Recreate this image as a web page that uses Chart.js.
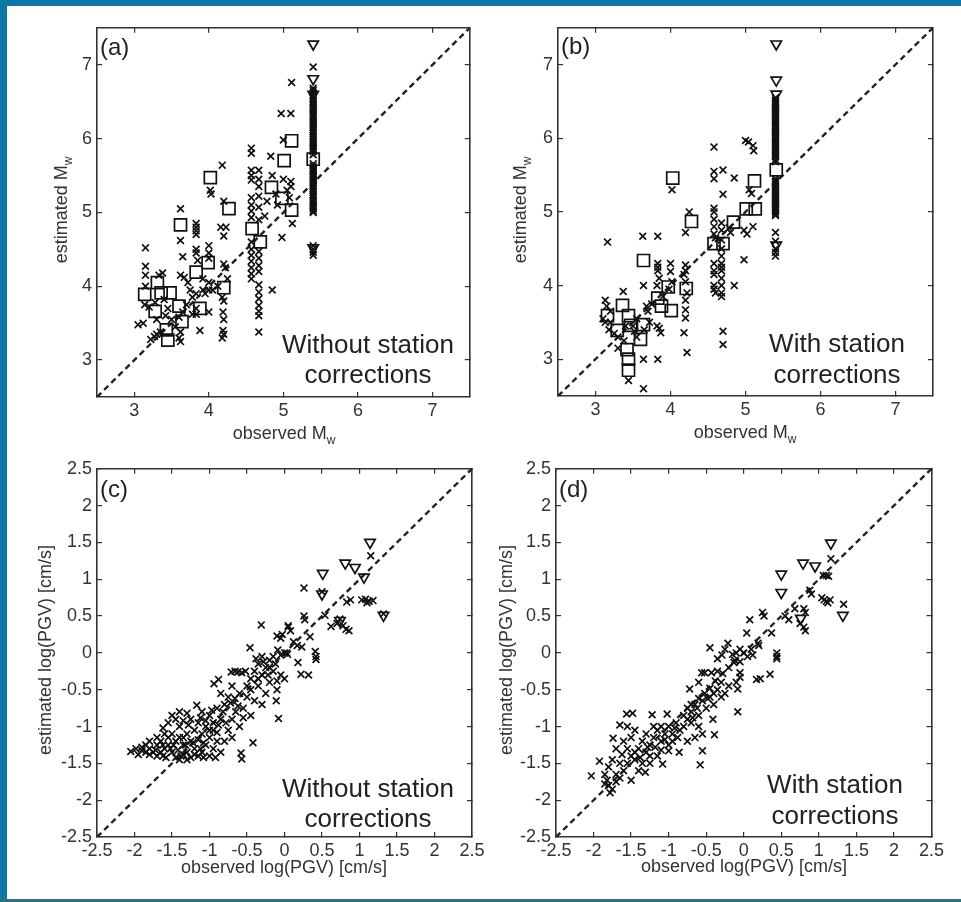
<!DOCTYPE html>
<html>
<head>
<meta charset="utf-8">
<title>Estimated vs observed Mw and log(PGV)</title>
<script src="https://cdn.jsdelivr.net/npm/chart.js@4.4.1/dist/chart.umd.min.js"></script>
<style>
  html, body { margin: 0; padding: 0; background: #fff; }
  #page { position: relative; width: 961px; height: 902px; overflow: hidden; background: #fff; }
  .band { position: absolute; background: #0d77a7; }
  canvas { position: absolute; }
</style>
</head>
<body>
<div id="page">
  <div class="band" style="left:0;top:0;width:961px;height:6px"></div>
  <div class="band" style="left:0;top:0;width:7px;height:902px"></div>
  <div class="band" style="left:0;top:899px;width:961px;height:3px;background:#2c6e86"></div>
  <canvas id="panel-a"></canvas>
  <canvas id="panel-b"></canvas>
  <canvas id="panel-c"></canvas>
  <canvas id="panel-d"></canvas>
</div>
<script>
// axis ranges and tick labels
const MW_RANGE = [2.5, 7.5];
const MW_TICKS = [3, 4, 5, 6, 7];
const PGV_RANGE = [-2.5, 2.5];
const PGV_TICKS = [-2.5, -2, -1.5, -1, -0.5, 0, 0.5, 1, 1.5, 2, 2.5];

// (a) Mw, without station corrections
const aCrosses = [
  [5.4,6.97],[5.4,6.68],[5.4,6.65],[5.4,6.62],[5.4,6.58],[5.4,6.55],[5.4,6.52],[5.4,6.5],[5.4,6.47],[5.4,6.45],
  [5.4,6.42],[5.4,6.4],[5.4,6.37],[5.4,6.35],[5.4,6.32],[5.4,6.3],[5.4,6.27],[5.4,6.24],[5.4,6.21],[5.4,6.18],
  [5.4,6.15],[5.4,6.12],[5.4,6.09],[5.4,6.07],[5.4,6.04],[5.4,6.02],[5.4,5.99],[5.4,5.96],[5.4,5.93],[5.4,5.9],
  [5.4,5.87],[5.4,5.85],[5.4,5.82],[5.4,5.78],[5.4,5.66],[5.4,5.63],[5.4,5.6],[5.4,5.57],[5.4,5.55],[5.4,5.52],
  [5.4,5.5],[5.4,5.47],[5.4,5.44],[5.4,5.41],[5.4,5.38],[5.4,5.35],[5.4,5.32],[5.4,5.29],[5.4,5.27],[5.4,5.24],
  [5.4,5.22],[5.4,5.19],[5.4,5.16],[5.4,5.13],[5.4,5.1],[5.4,5.07],[5.4,5.05],[5.4,5.02],[5.4,5.0],
  [5.4,4.55],[5.4,4.5],[5.4,4.46],[5.4,4.42],
  [4.57,5.87],[4.57,5.8],[4.57,5.57],[4.57,5.5],[4.57,5.44],[4.57,5.2],[4.57,5.1],[4.57,5.02],[4.57,4.93],
  [4.57,4.6],[4.57,4.5],[4.57,4.42],[4.57,4.34],[4.57,4.25],[4.57,4.17],[4.57,4.1],
  [4.67,5.57],[4.67,5.45],[4.67,5.35],[4.67,5.22],[4.67,5.07],[4.67,4.9],[4.67,4.47],[4.67,4.38],[4.67,4.28],
  [4.67,4.2],[4.67,4.02],[4.67,3.92],[4.67,3.83],[4.67,3.74],[4.67,3.66],[4.67,3.6],[4.67,3.38],
  [5.11,6.76],[4.97,6.34],[5.1,6.34],[5.0,5.98],[4.83,5.76],[4.85,5.5],[5.0,5.45],[5.1,5.42],[5.1,5.35],
  [4.9,5.25],[5.08,5.2],[5.12,4.85],[4.98,4.66],[4.92,5.1],[4.75,4.95],[4.85,3.95],[5.05,5.3],[4.78,5.15],
  [4.18,5.64],[4.2,5.15],[4.16,4.8],[4.23,4.8],[4.2,4.68],[4.2,4.3],[4.22,4.25],[4.18,3.85],[4.2,3.8],
  [4.19,3.65],[4.2,3.55],[4.19,3.4],[4.2,3.35],[4.18,3.3],[4.25,4.1],[4.12,4.0],
  [4.02,5.3],[4.03,5.25],[4.0,4.55],[4.0,4.45],[4.0,4.38],[4.0,3.95],[3.95,3.9],[4.05,3.95],[4.0,3.65],
  [4.0,4.05],[3.92,4.1],[3.92,3.95],
  [3.83,4.85],[3.83,4.8],[3.83,4.75],[3.83,4.7],[3.83,4.5],[3.83,4.45],[3.85,4.35],[3.83,3.9],[3.83,3.7],
  [3.83,3.62],[3.88,3.4],[3.78,3.62],
  [3.62,5.05],[3.62,4.62],[3.65,4.4],[3.62,4.15],[3.67,4.12],[3.72,4.05],[3.75,3.95],[3.78,3.85],[3.7,3.75],
  [3.65,3.65],[3.6,3.58],[3.62,3.38],[3.6,3.3],[3.62,3.25],[3.5,3.55],[3.55,3.45],
  [3.15,4.52],[3.15,4.27],[3.15,4.15],[3.15,4.0],[3.14,3.75],[3.2,3.72],[3.05,3.48],[3.12,3.5],[3.22,3.28],
  [3.27,3.32],[3.3,3.35],[3.35,3.38],[3.38,4.18],[3.33,4.15],[3.42,3.6],[3.3,3.55],[3.45,3.7],[3.28,3.78],[3.4,3.82]
];
const aSquares = [
  [5.4,5.72],[5.11,5.97],[5.01,5.7],[4.84,5.34],[4.98,5.19],[5.11,5.03],[4.58,4.78],[4.69,4.6],[4.27,5.05],
  [4.02,5.47],[3.62,4.83],[3.83,4.19],[3.99,4.32],[3.88,3.7],[4.2,3.98],[3.14,3.89],[3.31,4.05],[3.36,3.91],
  [3.48,3.91],[3.28,3.66],[3.6,3.73],[3.64,3.52],[3.43,3.41],[3.45,3.27]
];
const aTriangles = [[5.4,7.28],[5.4,6.81],[5.4,6.6],[5.4,4.52]];

// (b) Mw, with station corrections
const bCrosses = [
  [5.4,6.55],[5.4,6.52],[5.4,6.5],[5.4,6.47],[5.4,6.45],[5.4,6.42],[5.4,6.4],[5.4,6.37],[5.4,6.35],[5.4,6.32],
  [5.4,6.3],[5.4,6.27],[5.4,6.25],[5.4,6.22],[5.4,6.2],[5.4,6.17],[5.4,6.15],[5.4,6.12],[5.4,6.1],[5.4,6.07],
  [5.4,6.05],[5.4,6.02],[5.4,6.0],[5.4,5.97],[5.4,5.95],[5.4,5.92],[5.4,5.9],[5.4,5.87],[5.4,5.85],[5.4,5.82],
  [5.4,5.8],[5.4,5.77],[5.4,5.75],[5.4,5.71],[5.4,5.68],[5.4,5.45],[5.4,5.42],[5.4,5.4],[5.4,5.37],[5.4,5.35],
  [5.4,5.32],[5.4,5.3],[5.4,5.27],[5.4,5.25],[5.4,5.22],[5.4,5.2],[5.4,5.17],[5.4,5.15],[5.4,5.12],[5.4,5.1],
  [5.4,5.07],[5.4,5.05],[5.4,5.02],[5.4,5.0],[5.4,4.97],[5.4,4.95],[5.4,4.72],
  [5.4,4.6],[5.4,4.5],[5.4,4.45],[5.4,4.4],
  [4.58,5.88],[5.0,5.97],[5.04,5.95],[5.1,5.9],[5.11,5.83],[4.58,5.55],[4.7,5.57],[4.58,5.45],[4.85,5.46],
  [5.05,5.3],[5.08,5.25],[4.7,5.24],[4.98,4.75],[5.02,4.7],[5.1,4.8],[4.98,4.35],[4.85,4.0],
  [4.58,5.05],[4.58,5.0],[4.58,4.9],[4.58,4.8],[4.58,4.7],[4.6,4.65],[4.58,4.3],[4.58,4.2],[4.58,4.15],
  [4.58,4.0],[4.58,3.95],[4.6,3.9],
  [4.68,4.85],[4.68,4.75],[4.68,4.62],[4.68,4.5],[4.68,4.4],[4.68,4.3],[4.68,4.25],[4.68,4.2],[4.68,4.1],
  [4.68,4.0],[4.68,3.9],[4.68,3.85],[4.7,3.38],[4.7,3.2],[4.78,4.78],[4.8,4.72],
  [4.02,5.3],[4.25,5.0],[4.2,4.72],[3.16,4.59],[3.63,4.67],[3.83,4.67],[3.83,4.3],[3.83,4.25],[3.83,4.2],
  [3.85,4.1],[3.82,4.0],[3.9,3.85],[3.82,3.45],[3.87,3.36],[3.85,3.42],[3.83,3.0],[4.0,4.3],[4.0,4.19],
  [4.02,4.05],[3.98,3.95],[4.2,4.28],[4.2,4.2],[4.18,4.15],[4.2,4.05],[4.22,3.9],[4.2,3.8],[4.2,3.67],
  [4.2,3.56],[4.18,3.36],[4.22,3.09],[3.64,4.0],[3.64,3.0],[3.64,2.6],[3.44,2.71],[3.68,3.72],[3.75,3.75],
  [3.7,3.65],[3.13,3.8],[3.15,3.72],[3.1,3.55],[3.13,3.5],[3.2,3.5],[3.25,3.35],[3.3,3.3],[3.37,3.92],
  [3.5,3.45],[3.55,3.55],[3.3,3.15],[3.52,3.38],[3.55,3.3],[3.4,3.45],[3.38,3.25],[3.72,3.5],[3.65,3.4],
  [3.18,3.4],[3.2,3.65]
];
const bSquares = [
  [5.41,5.57],[5.12,5.42],[5.01,5.04],[5.13,5.04],[4.84,4.86],[4.58,4.57],[4.7,4.57],[4.03,5.46],[4.28,4.87],
  [3.64,4.34],[3.97,3.98],[3.83,3.83],[3.88,3.72],[4.01,3.66],[4.21,3.96],[3.16,3.59],[3.36,3.73],[3.44,3.59],
  [3.29,3.39],[3.42,3.13],[3.44,3.0],[3.44,2.85],[3.6,3.27],[3.64,3.47],[3.47,3.46]
];
const bTriangles = [[5.41,7.28],[5.41,6.79],[5.41,6.6],[5.41,4.55]];

// (c) log(PGV), without station corrections
const cCrosses = [
  [1.15,1.32],[0.26,0.88],[1.03,0.72],[1.08,0.73],[1.13,0.7],[1.18,0.71],[1.1,0.68],[0.83,0.69],[0.88,0.72],
  [0.54,0.51],[0.62,0.36],[0.7,0.4],[0.78,0.37],[0.82,0.32],[0.86,0.3],[0.26,0.5],[0.27,0.45],[0.34,0.22],
  [0.41,0.02],[0.42,-0.05],[0.42,-0.09],[0.23,0.08],[0.18,-0.13],[0.22,-0.29],[0.32,-0.3],[0.12,0.15],
  [0.05,0.35],[0.08,0.3],[0.05,0.37],[-0.05,0.2],[-0.03,0.25],[0.17,0.1],[0.0,0.0],[-0.05,-0.03],[0.04,-0.02],
  [-0.09,0.04],[0.03,0.0],[-0.1,0.23],[-0.31,0.38],[-0.46,0.07],[0.5,0.83],[1.32,0.53],[0.74,0.46],
  [-0.1,-0.5],[-0.11,-0.65],[-0.08,-0.89],[-0.42,-1.22],[-0.58,-1.36],[-0.57,-1.44],[-0.62,-0.26],
  [-0.57,-0.27],[-0.66,-0.25],[-0.71,-0.26],[-0.52,-0.25],[-0.94,-0.42],[-0.88,-0.36],
  [-0.3,-0.05],[-0.2,-0.1],[-0.25,-0.2],[-0.15,-0.25],[-0.05,-0.3],[0.0,-0.35],[-0.1,-0.38],[-0.35,-0.15],
  [-0.4,-0.25],[-0.3,-0.3],[-0.2,-0.4],[-0.35,-0.45],[-0.25,-0.55],[-0.45,-0.5],[-0.5,-0.6],[-0.4,-0.65],
  [-0.3,-0.7],[-0.55,-0.75],[-0.65,-0.8],[-0.45,-0.85],[-0.6,-0.55],[-0.7,-0.45],[-0.75,-0.6],[-0.8,-0.7],
  [-0.7,-0.9],[-0.6,-1.0],[-0.75,-1.05],[-0.8,-1.2],[-0.7,-1.15],[-0.85,-0.9],[-0.9,-0.75],[-0.95,-0.95],
  [-0.85,-0.55],[-0.2,-0.2],[-0.15,-0.05],[-0.38,-0.08],
  [-1.17,-0.71],[-1.1,-0.8],[-1.0,-0.85],[-0.95,-1.05],[-1.05,-1.0],[-1.0,-1.15],[-0.95,-1.3],[-1.05,-1.25],
  [-1.1,-1.1],[-1.15,-0.95],[-1.2,-1.05],[-1.25,-1.2],[-1.2,-1.3],[-1.3,-1.35],[-1.15,-1.4],[-1.35,-1.25],
  [-1.3,-1.1],[-1.4,-1.0],[-1.45,-0.9],[-1.4,-0.8],[-1.3,-0.82],[-1.25,-0.9],[-1.5,-0.85],[-1.55,-0.95],
  [-1.5,-1.1],[-1.45,-1.2],[-1.55,-1.25],[-1.5,-1.35],[-1.45,-1.42],[-1.4,-1.45],[-1.6,-1.3],[-1.65,-1.2],
  [-1.6,-1.1],[-1.7,-1.25],[-1.75,-1.35],[-1.8,-1.3],[-1.85,-1.25],[-1.9,-1.33],[-2.05,-1.34],[-1.95,-1.38],
  [-1.7,-1.4],[-1.62,-1.4],[-1.35,-1.38],[-1.25,-1.42],[-1.1,-1.35],[-0.85,-1.35],[-0.9,-1.2],[-1.7,-1.15],
  [-1.8,-1.2],[-1.35,-1.15],
  [-1.9,-1.28],[-1.8,-1.38],[-1.72,-1.32],[-1.65,-1.35],[-1.58,-1.42],[-1.52,-1.3],[-1.42,-1.32],[-1.38,-1.4],
  [-1.3,-1.45],[-1.2,-1.38],[-1.12,-1.3],[-1.08,-1.42],[-1.0,-1.4],[-0.92,-1.42],[-1.62,-1.25],[-1.55,-1.15],
  [-1.48,-1.25],[-1.4,-1.15],[-1.32,-1.25],[-1.22,-1.22],[-1.15,-1.18],[-1.08,-1.22],[-1.0,-1.05],[-0.9,-1.08],
  [-0.88,-0.98],[-1.05,-0.92],[-1.12,-0.88],[-0.97,-0.78],[-0.82,-0.8],[-0.78,-0.95],[-0.72,-0.68],[-0.66,-0.62],
  [-0.62,-0.72],[-0.55,-0.88],[-0.5,-0.45],[-0.45,-0.35],[-0.35,-0.35],[-0.28,-0.12],[-0.22,-0.3],[-0.12,-0.15],
  [-1.35,-0.92],[-1.28,-0.98],[-1.62,-1.02],[-1.98,-1.3],[-1.85,-1.35]
];
const cTriangles = [[1.14,1.5],[0.81,1.22],[0.94,1.16],[1.06,1.03],[0.51,1.08],[0.5,0.8],[1.32,0.51],[0.74,0.44]];

// (d) log(PGV), with station corrections
const dCrosses = [
  [1.16,1.28],[1.06,1.05],[1.1,1.05],[1.13,1.04],[1.04,0.75],[1.1,0.7],[1.15,0.72],[1.12,0.68],[1.07,0.72],
  [1.33,0.66],[0.88,0.85],[0.9,0.8],[0.8,0.6],[0.82,0.55],[0.55,0.5],[0.6,0.45],[0.8,0.35],[0.82,0.3],
  [0.75,0.4],[0.68,0.6],[0.25,0.55],[0.27,0.5],[0.08,0.45],[0.04,0.27],[0.37,0.27],[0.19,0.13],[0.2,0.1],
  [0.44,0.0],[0.44,-0.05],[0.44,-0.08],[0.12,-0.03],[0.0,0.0],[-0.05,0.05],[0.05,-0.05],[-0.1,0.0],
  [-0.45,0.07],[-0.21,0.13],[-0.25,0.05],[-0.29,-0.03],[-0.15,-0.02],[-0.13,-0.13],[-0.35,-0.08],
  [-0.56,-0.27],[-0.52,-0.27],[-0.43,-0.27],[-0.05,-0.27],[-0.05,-0.33],[-0.1,-0.4],[0.17,-0.36],[0.22,-0.35],
  [0.35,-0.29],[-0.08,-0.49],[-0.72,-0.49],[-0.08,-0.8],[-0.41,-0.9],[-0.39,-1.11],
  [-0.2,-0.45],[-0.3,-0.4],[-0.35,-0.5],[-0.25,-0.55],[-0.45,-0.6],[-0.55,-0.65],[-0.5,-0.75],[-0.6,-0.85],
  [-0.65,-0.7],[-0.7,-0.8],[-0.75,-0.75],[-0.8,-0.85],[-0.7,-0.95],[-0.6,-1.0],[-0.65,-1.15],[-0.75,-1.2],
  [-0.55,-1.1],[-0.55,-1.33],[-0.58,-1.52],[-0.86,-1.35],[-0.85,-1.05],[-0.9,-0.95],[-0.95,-1.1],[-1.0,-1.0],
  [-0.4,-0.7],[-0.3,-0.6],[-0.6,-0.4],
  [-1.56,-0.83],[-1.48,-0.82],[-1.22,-0.84],[-1.02,-0.83],[-1.1,-1.0],[-1.05,-1.1],[-1.15,-1.05],[-1.2,-1.15],
  [-1.1,-1.2],[-1.0,-1.25],[-1.1,-1.32],[-1.0,-1.33],[-1.25,-1.25],[-1.3,-1.1],[-1.35,-1.2],[-1.4,-1.3],
  [-1.3,-1.35],[-1.45,-1.45],[-1.35,-1.5],[-1.5,-1.4],[-1.55,-1.3],[-1.6,-1.2],[-1.5,-1.15],[-1.45,-1.05],
  [-1.55,-1.0],[-1.65,-0.98],[-1.74,-1.16],[-1.7,-1.3],[-1.75,-1.45],[-1.65,-1.5],[-1.6,-1.6],[-1.7,-1.65],
  [-1.8,-1.55],[-1.92,-1.47],[-2.03,-1.67],[-1.82,-1.73],[-1.8,-1.8],[-1.78,-1.9],[-1.75,-1.85],[-1.5,-1.73],
  [-1.31,-1.62],[-1.08,-1.51],[-1.25,-1.5],[-1.4,-1.6],[-1.85,-1.65],
  [-1.62,-1.38],[-1.45,-1.35],[-1.38,-1.42],[-1.28,-1.28],[-1.18,-1.28],[-1.15,-1.4],[-1.05,-1.18],[-0.95,-1.2],
  [-0.88,-1.15],[-0.8,-1.0],[-0.75,-0.9],[-0.68,-0.88],[-0.62,-0.75],[-0.52,-0.55],[-0.45,-0.48],[-0.38,-0.38],
  [-0.28,-0.28],[-0.2,-0.2],[-0.12,-0.1],[-0.05,-0.12],[0.1,0.05],[-0.6,-0.62],[-0.7,-0.7],[-0.92,-1.02],
  [-1.2,-1.0],[-1.25,-1.4],[-1.55,-1.5],[-1.7,-1.75],[-1.85,-1.78],[-1.65,-1.7],[-0.4,-0.55],[-0.35,-0.25],
  [-0.48,-0.62]
];
const dTriangles = [[1.16,1.49],[0.79,1.22],[0.95,1.18],[0.5,1.07],[0.5,0.82],[1.32,0.51],[0.76,0.47]];

const FONT = '"Liberation Sans", Arial, sans-serif';
const INK = '#111';
const AXIS_INK = '#333';

// canvas box and plot area (page pixels) for every panel
const PANELS = [
  {
    id: 'panel-a', box: { left: 8, top: 7, width: 472, height: 438 }, area: { l: 97, r: 471, t: 24, b: 397 },
    range: MW_RANGE, ticks: MW_TICKS, crosses: aCrosses, squares: aSquares, triangles: aTriangles,
    letter: '(a)', letterAt: [100, 55], note: ['Without station', 'corrections'], noteX: 368, noteY: [353, 383],
    xTitle: ['observed M', 'w'], xTitleAt: [284, 439], yTitle: ['estimated M', 'w'], yTitleAt: [67, 210],
  },
  {
    id: 'panel-b', box: { left: 482, top: 7, width: 470, height: 438 }, area: { l: 558, r: 933, t: 23, b: 396 },
    range: MW_RANGE, ticks: MW_TICKS, crosses: bCrosses, squares: bSquares, triangles: bTriangles,
    letter: '(b)', letterAt: [561, 54], note: ['With station', 'corrections'], noteX: 837, noteY: [352, 383],
    xTitle: ['observed M', 'w'], xTitleAt: [745, 438], yTitle: ['estimated M', 'w'], yTitleAt: [526, 210],
  },
  {
    id: 'panel-c', box: { left: 8, top: 448, width: 485, height: 448 }, area: { l: 97, r: 472, t: 463, b: 837 },
    range: PGV_RANGE, ticks: PGV_TICKS, crosses: cCrosses, squares: [], triangles: cTriangles,
    letter: '(c)', letterAt: [100, 497], note: ['Without station', 'corrections'], noteX: 368, noteY: [797, 827],
    xTitle: ['observed log(PGV) [cm/s]'], xTitleAt: [284, 873], yTitle: ['estimated log(PGV) [cm/s]'], yTitleAt: [51, 650],
  },
  {
    id: 'panel-d', box: { left: 482, top: 448, width: 470, height: 448 }, area: { l: 556, r: 932, t: 463, b: 837 },
    range: PGV_RANGE, ticks: PGV_TICKS, crosses: dCrosses, squares: [], triangles: dTriangles,
    letter: '(d)', letterAt: [559, 497], note: ['With station', 'corrections'], noteX: 835, noteY: [793, 824],
    xTitle: ['observed log(PGV) [cm/s]'], xTitleAt: [744, 872], yTitle: ['estimated log(PGV) [cm/s]'], yTitleAt: [512, 650],
  },
];

const toPoints = (arr) => arr.map(([x, y]) => ({ x, y }));

function drawTitle(ctx, parts, x, y, angle) {
  ctx.save();
  ctx.translate(x, y);
  ctx.rotate(angle);
  ctx.textAlign = 'left';
  ctx.textBaseline = 'alphabetic';
  ctx.font = `18px ${FONT}`;
  const mainW = ctx.measureText(parts[0]).width;
  let subW = 0;
  if (parts[1]) {
    ctx.font = `12px ${FONT}`;
    subW = ctx.measureText(parts[1]).width;
  }
  const start = -(mainW + subW) / 2;
  ctx.font = `18px ${FONT}`;
  ctx.fillText(parts[0], start, 0);
  if (parts[1]) {
    ctx.font = `12px ${FONT}`;
    ctx.fillText(parts[1], start + mainW, 5);
  }
  ctx.restore();
}

// letters, notes and axis titles (titles need a subscript w)
function textPlugin(p) {
  return {
    id: 'panelText',
    afterDraw(chart) {
      const ctx = chart.ctx;
      const ox = p.box.left, oy = p.box.top;
      ctx.save();
      ctx.fillStyle = '#222';
      ctx.font = `24px ${FONT}`;
      ctx.textAlign = 'left';
      ctx.textBaseline = 'alphabetic';
      ctx.fillText(p.letter, p.letterAt[0] - ox, p.letterAt[1] - oy);
      ctx.font = `26px ${FONT}`;
      ctx.textAlign = 'center';
      p.note.forEach((line, i) => ctx.fillText(line, p.noteX - ox, p.noteY[i] - oy));
      ctx.fillStyle = AXIS_INK;
      drawTitle(ctx, p.xTitle, p.xTitleAt[0] - ox, p.xTitleAt[1] - oy, 0);
      drawTitle(ctx, p.yTitle, p.yTitleAt[0] - ox, p.yTitleAt[1] - oy, -Math.PI / 2);
      ctx.restore();
    },
  };
}

function buildScales(p) {
  const yAxisW = p.area.l - p.box.left;
  const xAxisH = p.box.top + p.box.height - p.area.b;
  const grid = { drawOnChartArea: false, drawTicks: true, tickLength: -5, color: AXIS_INK, lineWidth: 1.2 };
  const border = { display: true, color: AXIS_INK, width: 1.6 };
  const setTicks = (s) => { s.ticks = p.ticks.map((v) => ({ value: v })); };
  const labels = {
    font: { family: FONT, size: 18 }, color: AXIS_INK, autoSkip: false, maxRotation: 0,
    callback: (v) => String(v),
  };
  const base = { type: 'linear', min: p.range[0], max: p.range[1], afterBuildTicks: setTicks, grid, border };
  return {
    x: { ...base, position: 'bottom', ticks: { ...labels, padding: 8 }, afterFit: (s) => { s.height = xAxisH; } },
    y: { ...base, position: 'left', ticks: { ...labels, padding: 10 }, afterFit: (s) => { s.width = yAxisW; } },
    x2: { ...base, position: 'top', ticks: { display: false }, afterFit: (s) => { s.height = 0; } },
    y2: { ...base, position: 'right', ticks: { display: false }, afterFit: (s) => { s.width = 0; } },
  };
}

function buildDatasets(p) {
  const marker = { pointBorderColor: INK, pointBackgroundColor: 'rgba(0,0,0,0)', showLine: false };
  return [
    { ...marker, data: toPoints(p.triangles), pointStyle: 'triangle', pointRotation: 180, pointRadius: 6, pointBorderWidth: 1.7 },
    { ...marker, data: toPoints(p.squares), pointStyle: 'rect', pointRadius: 8.5, pointBorderWidth: 1.7 },
    { ...marker, data: toPoints(p.crosses), pointStyle: 'crossRot', pointRadius: 4.8, pointBorderWidth: 1.7 },
    {
      data: [{ x: p.range[0], y: p.range[0] }, { x: p.range[1], y: p.range[1] }],
      showLine: true, pointRadius: 0, borderColor: '#222', borderWidth: 2.4, borderDash: [6, 4],
    },
  ];
}

function renderPanel(p) {
  const canvas = document.getElementById(p.id);
  canvas.width = p.box.width;
  canvas.height = p.box.height;
  canvas.style.left = p.box.left + 'px';
  canvas.style.top = p.box.top + 'px';

  new Chart(canvas, {
    type: 'scatter',
    data: { datasets: buildDatasets(p) },
    options: {
      responsive: false,
      animation: false,
      events: [],
      layout: {
        padding: {
          left: 0, bottom: 0,
          top: p.area.t - p.box.top,
          right: p.box.left + p.box.width - p.area.r,
        },
      },
      plugins: { legend: { display: false }, tooltip: { enabled: false } },
      scales: buildScales(p),
    },
    plugins: [textPlugin(p)],
  });
}

PANELS.forEach(renderPanel);
</script>
</body>
</html>
